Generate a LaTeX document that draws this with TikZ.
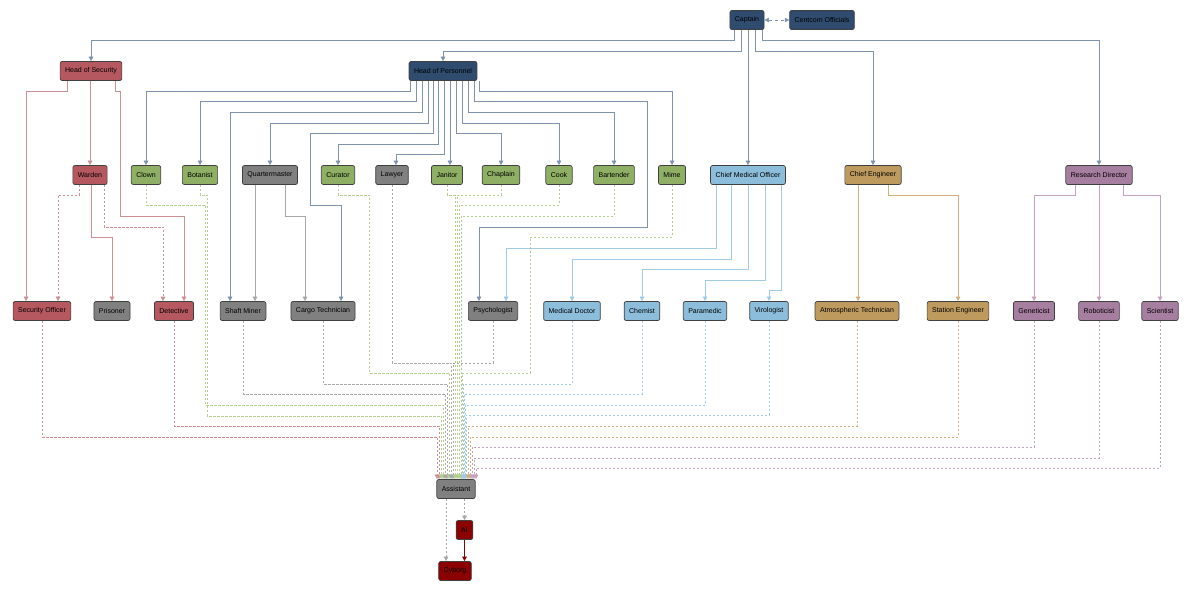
\documentclass[tikz,border=0pt]{standalone}
\usepackage{fontspec}
\setmainfont{Liberation Sans}
\usetikzlibrary{arrows.meta}
\definecolor{cblue}{HTML}{2F4B6E}
\definecolor{csec}{HTML}{B5585F}
\definecolor{cgrn}{HTML}{8FAF65}
\definecolor{cgry}{HTML}{808080}
\definecolor{cmed}{HTML}{8CBEDB}
\definecolor{ceng}{HTML}{BE9A5F}
\definecolor{csci}{HTML}{A67EA0}
\definecolor{cai}{HTML}{8B0000}
\definecolor{lblue}{HTML}{7F93AE}
\definecolor{lsec}{HTML}{D08F94}
\definecolor{lgrn}{HTML}{B3CF90}
\definecolor{lgry}{HTML}{A8A8A8}
\definecolor{lmed}{HTML}{9FCBE4}
\definecolor{leng}{HTML}{D2B07E}
\definecolor{lsci}{HTML}{C6A2C1}
\tikzset{
 bx/.style={draw=black!75,line width=0.7pt,rounded corners=2pt,fill=#1,minimum height=19pt,inner xsep=5pt,inner ysep=0pt,font=\fontsize{7}{8}\selectfont,text=black},
 ed/.style={draw=#1,line width=0.6pt,-{Triangle[width=4.5pt,length=4.5pt]}},
 dd/.style={ed=#1,dashed,dash pattern=on 2.5pt off 1.5pt},
}
\begin{document}
\begin{tikzpicture}[x=1pt,y=-1pt]
\useasboundingbox (0,0) rectangle (1191,590);
% nodes
\node[bx=cblue] (cap) at (747,20) {Captain};
\node[bx=cblue] (cc) at (822,20) {Centcom Officials};
\node[bx=csec] (hos) at (91,71) {Head of Security};
\node[bx=cblue] (hop) at (443,71) {Head of Personnel};
\node[bx=csec] (warden) at (90,175) {Warden};
\node[bx=cgrn] (clown) at (146,175) {Clown};
\node[bx=cgrn] (bot) at (200,175) {Botanist};
\node[bx=cgry] (qm) at (270,175) {Quartermaster};
\node[bx=cgrn] (cur) at (338,175) {Curator};
\node[bx=cgry] (law) at (392,175) {Lawyer};
\node[bx=cgrn] (jan) at (447,175) {Janitor};
\node[bx=cgrn] (chap) at (501,175) {Chaplain};
\node[bx=cgrn] (cook) at (559,175) {Cook};
\node[bx=cgrn] (bart) at (614,175) {Bartender};
\node[bx=cgrn] (mime) at (672,175) {Mime};
\node[bx=cmed] (cmo) at (748,175) {Chief Medical Officer};
\node[bx=ceng] (ce) at (873,175) {Chief Engineer};
\node[bx=csci] (rd) at (1099,175) {Research Director};
\node[bx=csec] (secoff) at (42,311) {Security Officer};
\node[bx=cgry] (pris) at (112,311) {Prisoner};
\node[bx=csec] (det) at (174,311) {Detective};
\node[bx=cgry] (shaft) at (243,311) {Shaft Miner};
\node[bx=cgry] (cargo) at (323,311) {Cargo Technician};
\node[bx=cgry] (psy) at (493,311) {Psychologist};
\node[bx=cmed] (md) at (572,311) {Medical Doctor};
\node[bx=cmed] (chem) at (642,311) {Chemist};
\node[bx=cmed] (para) at (705,311) {Paramedic};
\node[bx=cmed] (viro) at (769,311) {Virologist};
\node[bx=ceng] (atmos) at (857,311) {Atmospheric Technician};
\node[bx=ceng] (se) at (958,311) {Station Engineer};
\node[bx=csci] (gen) at (1034,311) {Geneticist};
\node[bx=csci] (rob) at (1099,311) {Roboticist};
\node[bx=csci] (sci) at (1160,311) {Scientist};
\node[bx=cgry] (asst) at (456,489) {Assistant};
\node[bx=cai] (ai) at (464.5,530) {AI};
\node[bx=cai] (cyb) at (455,571) {Cyborg};
% captain
\draw[ed=lblue] ([xshift=-13]cap.south) -- ++(0,10) -| (hos.north);
\draw[ed=lblue] ([xshift=-6]cap.south) -- ++(0,21) -| (hop.north);
\draw[ed=lblue] (cmo.north |- cap.south) -- (cmo.north);
\draw[ed=lblue] ([xshift=8]cap.south) -- ++(0,21) -| (ce.north);
\draw[ed=lblue] ([xshift=15]cap.south) -- ++(0,10) -| (rd.north);
\draw[ed=lblue,{Triangle[width=4.5pt,length=4.5pt]}-{Triangle[width=4.5pt,length=4.5pt]},dashed] (cap) -- (cc);
% hos
\draw[ed=lsec] ([xshift=-24]hos.south) -- ++(0,10) -| ([xshift=-16]secoff.north);
\draw[ed=lsec] (warden.north |- hos.south) -- (warden.north);
\draw[ed=lsec] ([xshift=24]hos.south) -- ++(0,10) -- ++(5,0) -- ++(0,125) -| ([xshift=10]det.north);
\draw[dd=lsec] ([xshift=-11]warden.south) -- ++(0,10) -| ([xshift=16]secoff.north);
\draw[ed=lsec] ([xshift=1]warden.south) -- ++(0,52) -| (pris.north);
\draw[dd=lsec] ([xshift=14]warden.south) -- ++(0,42) -| ([xshift=-11]det.north);
% hop
\draw[ed=lblue] ([xshift=-33]hop.south) -- ++(0,10) -| (clown.north);
\draw[ed=lblue] ([xshift=-27]hop.south) -- ++(0,20) -| (bot.north);
\draw[ed=lblue] ([xshift=-21]hop.south) -- ++(0,31) -| ([xshift=-13]shaft.north);
\draw[ed=lblue] ([xshift=-15]hop.south) -- ++(0,42) -| (qm.north);
\draw[ed=lblue] ([xshift=-10]hop.south) -- ++(0,52) -- ++(-123,0) -- ++(0,72) -| ([xshift=18]cargo.north);
\draw[ed=lblue] ([xshift=-5]hop.south) -- ++(0,63) -| (cur.north);
\draw[ed=lblue] ([xshift=1]hop.south) -- ++(0,73) -| ([xshift=4]law.north);
\draw[ed=lblue] ([xshift=7]hop.south) -- ([xshift=3]jan.north);
\draw[ed=lblue] ([xshift=13]hop.south) -- ++(0,52) -| (chap.north);
\draw[ed=lblue] ([xshift=19]hop.south) -- ++(0,42) -| (cook.north);
\draw[ed=lblue] ([xshift=25]hop.south) -- ++(0,31) -| (bart.north);
\draw[ed=lblue] ([xshift=31]hop.south) -- ++(0,20) -- ++(173,0) -- ++(0,126) -| ([xshift=-14]psy.north);
\draw[ed=lblue] ([xshift=36]hop.south) -- ++(0,10) -| (mime.north);
% qm
\draw[ed=lgry] ([xshift=-15]qm.south) -- ([xshift=12]shaft.north);
\draw[ed=lgry] ([xshift=15]qm.south) -- ++(0,31) -| ([xshift=-18]cargo.north);
% cmo
\draw[ed=lmed] ([xshift=-32]cmo.south) -- ++(0,63) -| ([xshift=13]psy.north);
\draw[ed=lmed] ([xshift=-17]cmo.south) -- ++(0,74) -| (md.north);
\draw[ed=lmed] (cmo.south) -- ++(0,84) -| (chem.north);
\draw[ed=lmed] ([xshift=17]cmo.south) -- ++(0,95) -| (para.north);
\draw[ed=lmed] ([xshift=33]cmo.south) -- ++(0,105) -| (viro.north);
% ce, rd
\draw[ed=leng] ([xshift=-15]ce.south) -- ([xshift=1]atmos.north);
\draw[ed=leng] ([xshift=15]ce.south) -- ++(0,10) -| (se.north);
\draw[ed=lsci] ([xshift=-24]rd.south) -- ++(0,10) -| (gen.north);
\draw[ed=lsci] (rd.south) -- (rob.north);
\draw[ed=lsci] ([xshift=24]rd.south) -- ++(0,10) -| (sci.north);
% to assistant
\draw[dd=lsec] (secoff.south) -- ++(0,116) -| ([xshift=-19]asst.north);
\draw[dd=lsec] (det.south) -- ++(0,105) -| ([xshift=-17]asst.north);
\draw[dd=lgrn] (bot.south) -- ++(0,10) -- ++(7,0) -- ++(0,221) -| ([xshift=-15]asst.north);
\draw[dd=lgrn] (clown.south) -- ++(0,20) -- ++(59,0) -- ++(0,200) -| ([xshift=-13]asst.north);
\draw[dd=lgry] (shaft.south) -- ++(0,73) -| ([xshift=-11]asst.north);
\draw[dd=lgry] (cargo.south) -- ++(0,63) -| ([xshift=-9]asst.north);
\draw[dd=lgrn] (cur.south) -- ++(0,10) -- ++(31,0) -- ++(0,178) -| ([xshift=-7]asst.north);
\draw[dd=lgry] (law.south) -- ++(0,178) -| ([xshift=-5]asst.north);
\draw[dd=lgry] (psy.south) -- ++(0,42) -| ([xshift=-3]asst.north);
\draw[dd=lgrn] (jan.south) -- ++(0,10) -| ([xshift=-1]asst.north);
\draw[dd=lgrn] (chap.south) -- ++(0,10) -| ([xshift=1]asst.north);
\draw[dd=lgrn] (cook.south) -- ++(0,20) -| ([xshift=3]asst.north);
\draw[dd=lgrn] (bart.south) -- ++(0,31) -| ([xshift=5]asst.north);
\draw[dd=lgrn] (mime.south) -- ++(0,52) -- ++(-142,0) -- ++(0,136) -| ([xshift=6]asst.north);
\draw[dd=lmed] (md.south) -- ++(0,63) -| ([xshift=7]asst.north);
\draw[dd=lmed] (chem.south) -- ++(0,73) -| ([xshift=8]asst.north);
\draw[dd=lmed] (para.south) -- ++(0,84) -| ([xshift=9]asst.north);
\draw[dd=lmed] (viro.south) -- ++(0,94) -| ([xshift=10]asst.north);
\draw[dd=leng] (atmos.south) -- ++(0,105) -| ([xshift=12]asst.north);
\draw[dd=leng] (se.south) -- ++(0,116) -| ([xshift=14]asst.north);
\draw[dd=lsci] (gen.south) -- ++(0,126) -| ([xshift=16]asst.north);
\draw[dd=lsci] (rob.south) -- ++(0,137) -| ([xshift=18]asst.north);
\draw[dd=lsci] (sci.south) -- ++(0,147) -| ([xshift=20]asst.north);
% bottom
\draw[dd=lgry] (ai.north |- asst.south) -- (ai.north);
\draw[dd=lgry] ([xshift=-10]asst.south) -- ([xshift=-9]cyb.north);
\draw[ed=cai] (ai.south) -- (ai.south |- cyb.north);
\end{tikzpicture}
\end{document}
